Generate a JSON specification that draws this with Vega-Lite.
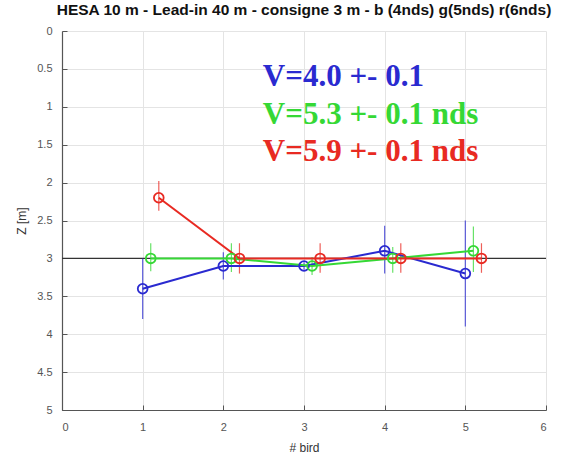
{
  "$schema": "https://vega.github.io/schema/vega-lite/v6.json",
  "autosize": "none",
  "width": 484,
  "height": 379,
  "padding": {"left": 62, "top": 31, "right": 23, "bottom": 51},
  "background": "white",
  "title": {
    "text": "HESA 10 m - Lead-in 40 m - consigne 3 m - b (4nds)  g(5nds) r(6nds)",
    "font": "Liberation Sans",
    "fontSize": 15.5,
    "fontWeight": "bold",
    "color": "#111111",
    "anchor": "middle",
    "frame": "group",
    "offset": 7
  },
  "config": {
    "view": {"stroke": null},
    "axis": {
      "labelFont": "Liberation Sans",
      "labelFontSize": 11,
      "labelColor": "#555555",
      "titleFont": "Liberation Sans",
      "titleFontSize": 12,
      "titleFontWeight": "normal",
      "titleColor": "#333333",
      "domainColor": "#555555",
      "domainWidth": 1.2,
      "tickColor": "#555555",
      "gridColor": "#e4e4e4",
      "gridWidth": 1
    }
  },
  "datasets": {
    "pts": [
      {"series": "b", "x": 1, "y": 3.4, "lo": 3.0, "hi": 3.8},
      {"series": "b", "x": 2, "y": 3.1, "lo": 2.92, "hi": 3.28},
      {"series": "b", "x": 3, "y": 3.1, "lo": 3.05, "hi": 3.15},
      {"series": "b", "x": 4, "y": 2.9, "lo": 2.57, "hi": 3.2},
      {"series": "b", "x": 5, "y": 3.2, "lo": 2.5, "hi": 3.9},
      {"series": "g", "x": 1.1, "y": 3.0, "lo": 2.8, "hi": 3.17},
      {"series": "g", "x": 2.1, "y": 3.0, "lo": 2.8, "hi": 3.18},
      {"series": "g", "x": 3.1, "y": 3.1, "lo": 2.98, "hi": 3.22},
      {"series": "g", "x": 4.1, "y": 3.0, "lo": 2.85, "hi": 3.19},
      {"series": "g", "x": 5.1, "y": 2.9, "lo": 2.58, "hi": 3.18},
      {"series": "r", "x": 1.2, "y": 2.2, "lo": 1.98, "hi": 2.37},
      {"series": "r", "x": 2.2, "y": 3.0, "lo": 2.8, "hi": 3.2},
      {"series": "r", "x": 3.2, "y": 3.0, "lo": 2.8, "hi": 3.19},
      {"series": "r", "x": 4.2, "y": 3.0, "lo": 2.8, "hi": 3.19},
      {"series": "r", "x": 5.2, "y": 3.0, "lo": 2.8, "hi": 3.19}
    ],
    "notes": [
      {"series": "b", "x": 2.49, "y": 0.726, "label": "V=4.0 +- 0.1"},
      {"series": "g", "x": 2.49, "y": 1.227, "label": "V=5.3 +- 0.1 nds"},
      {"series": "r", "x": 2.49, "y": 1.715, "label": "V=5.9 +- 0.1 nds"}
    ],
    "ref": [{"z": 3}]
  },
  "encoding": {
    "x": {"type": "quantitative", "scale": {"domain": [0, 6], "nice": false}, "axis": {"title": "# bird", "values": [0, 1, 2, 3, 4, 5, 6], "format": "~g", "tickSize": -5, "labelPadding": 16, "titlePadding": 10}},
    "y": {"type": "quantitative", "scale": {"domain": [0, 5], "reverse": true, "nice": false}, "axis": {"title": "Z [m]", "values": [0, 0.5, 1, 1.5, 2, 2.5, 3, 3.5, 4, 4.5, 5], "format": "~g", "tickSize": -5, "labelPadding": 15, "titlePadding": 8}},
    "color": {"field": "series", "type": "nominal", "scale": {"domain": ["b", "g", "r"], "range": ["#2a2ad0", "#35d835", "#e82a22"]}, "legend": null}
  },
  "layer": [
    {
      "data": {"name": "ref"},
      "mark": {"type": "rule", "color": "#333333", "strokeWidth": 1.4},
      "encoding": {
        "y": {"field": "z", "type": "quantitative"},
        "color": null
      }
    },
    {
      "data": {"name": "pts"},
      "mark": {"type": "rule", "strokeWidth": 1.2, "opacity": 0.75},
      "encoding": {
        "x": {"field": "x", "type": "quantitative"},
        "y": {"field": "lo", "type": "quantitative"},
        "y2": {"field": "hi"}
      }
    },
    {
      "data": {"name": "pts"},
      "mark": {"type": "line", "strokeWidth": 2},
      "encoding": {
        "x": {"field": "x", "type": "quantitative"},
        "y": {"field": "y", "type": "quantitative"},
        "detail": {"field": "series"}
      }
    },
    {
      "data": {"name": "pts"},
      "mark": {"type": "point", "shape": "circle", "filled": false, "size": 95, "strokeWidth": 1.8, "opacity": 1},
      "encoding": {
        "x": {"field": "x", "type": "quantitative"},
        "y": {"field": "y", "type": "quantitative"}
      }
    },
    {
      "data": {"name": "notes"},
      "mark": {"type": "text", "align": "left", "baseline": "alphabetic", "font": "Liberation Serif", "fontWeight": "bold", "fontSize": 31},
      "encoding": {
        "x": {"field": "x", "type": "quantitative"},
        "y": {"field": "y", "type": "quantitative"},
        "text": {"field": "label"}
      }
    }
  ]
}
